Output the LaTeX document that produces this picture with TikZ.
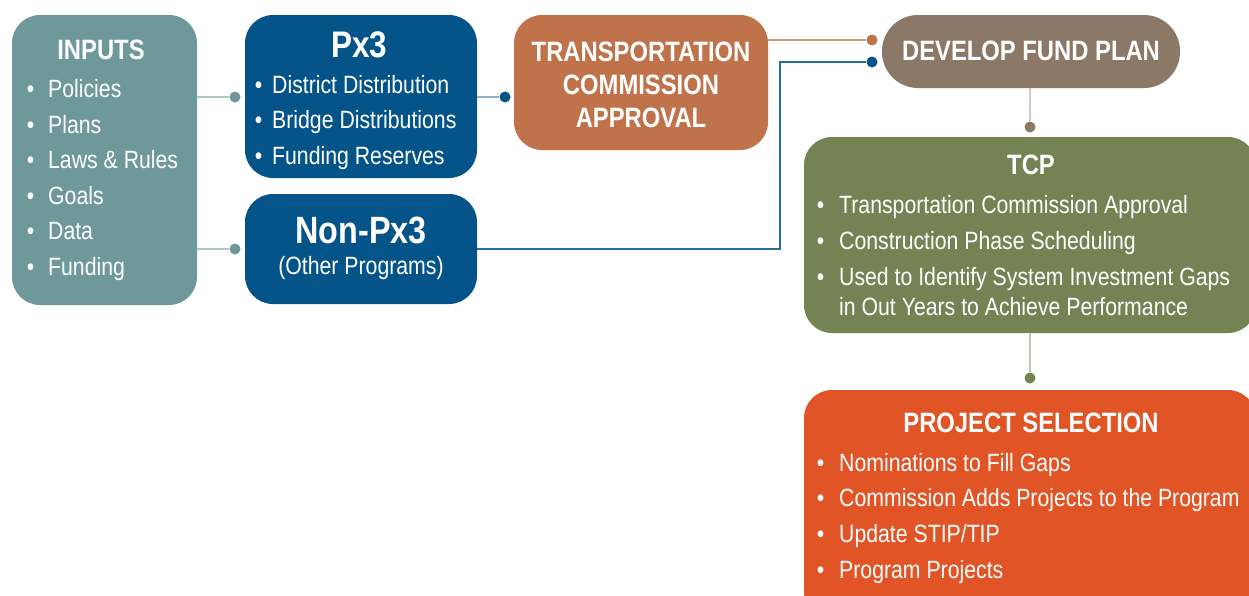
\documentclass[tikz,border=0pt]{standalone}
\usepackage{fontspec}
\setmainfont{Liberation Sans}[FakeStretch=0.85]
\definecolor{inputteal}{RGB}{110,152,153}
\definecolor{pxblue}{RGB}{4,84,138}
\definecolor{tcaorange}{RGB}{192,115,74}
\definecolor{fundbrown}{RGB}{139,120,103}
\definecolor{tcpgreen}{RGB}{116,131,83}
\definecolor{selorange}{RGB}{224,84,38}
\tikzstyle{box} = [rectangle, rounded corners=28pt, inner sep=0pt]
\tikzstyle{dot} = [circle, inner sep=0pt, minimum size=11pt]
\tikzstyle{link} = [draw, line width=1.6pt]
\tikzstyle{head} = [text=white, align=center, inner sep=0pt,
    font=\fontsize{28}{33}\selectfont\bfseries]
\tikzstyle{bul} = [text=white, anchor=base west, inner sep=0pt,
    font=\fontsize{25}{30}\selectfont]
\newcommand{\blt}[1][14pt]{\llap{\textbullet\hspace{#1}}}

\begin{document}
\begin{tikzpicture}[x=1pt, y=-1pt]
  \useasboundingbox (0,0) rectangle (1249,595);
  % boxes
  \node [box, fill=inputteal, minimum width=185pt, minimum height=290pt] (inputs) at (104.5,160) {};
  \node [box, fill=pxblue, minimum width=232pt, minimum height=163pt] (px3) at (361,96.5) {};
  \node [box, fill=pxblue, minimum width=232pt, minimum height=110pt] (nonpx) at (361,249) {};
  \node [box, fill=tcaorange, minimum width=254pt, minimum height=135pt] (tca) at (641,82.5) {};
  \node [box, rounded corners=36pt, fill=fundbrown, minimum width=298pt, minimum height=73pt] (dfp) at (1031,51.5) {};
  \node [box, fill=tcpgreen, minimum width=452pt, minimum height=196pt] (tcp) at (1030,235) {};
  \node [box, fill=selorange, minimum width=452pt, minimum height=230pt] (psel) at (1030,505) {};

  % inputs
  \node [head] (inputshead) at (101,50) {INPUTS};
  \foreach \t [count=\i from 0] in {Policies, Plans, Laws \& Rules, Goals, Data, Funding}
    \node [bul] (in\i) at (48,97.5+35.6*\i) {\blt\t};

  % px3
  \node [head, font=\fontsize{37}{40}\selectfont\bfseries] (px3head) at (359,45) {Px3};
  \foreach \t [count=\i from 0] in {District Distribution, Bridge Distributions, Funding Reserves}
    \node [bul] (px\i) at (272,93+35.5*\i) {\blt[10pt]\t};

  % non-px3
  \node [head, font=\fontsize{38}{42}\selectfont\bfseries] (nonpxhead) at (361,230) {Non-Px3};
  \node [head, font=\fontsize{25}{30}\selectfont] (nonpxsub) at (361,268) {(Other Programs)};

  % commission approval and fund plan
  \node [head] (tcatext) at (641,85) {TRANSPORTATION\\COMMISSION\\APPROVAL};
  \node [head] (dfptext) at (1031,51) {DEVELOP FUND PLAN};

  % tcp
  \node [head] (tcphead) at (1031,165) {TCP};
  \node [bul] (tcp0) at (839,213) {\blt[15pt]Transportation Commission Approval};
  \node [bul] (tcp1) at (839,249) {\blt[15pt]Construction Phase Scheduling};
  \node [bul] (tcp2) at (839,285) {\blt[15pt]Used to Identify System Investment Gaps};
  \node [bul] (tcp3) at (839,315) {in Out Years to Achieve Performance};

  % project selection
  \node [head] (pshead) at (1031,423) {PROJECT SELECTION};
  \foreach \t [count=\i from 0] in {Nominations to Fill Gaps, Commission Adds Projects to the Program, Update STIP/TIP, Program Projects}
    \node [bul] (ps\i) at (839,471+35.7*\i) {\blt[15pt]\t};

  % connectors
  \node [dot, fill=inputteal] (d1) at (235,97) {};
  \node [dot, fill=inputteal] (d2) at (235,249) {};
  \node [dot, fill=pxblue] (d3) at (505,97) {};
  \node [dot, fill=tcaorange] (d4) at (872,40) {};
  \node [dot, fill=pxblue] (d5) at (872,62) {};
  \node [dot, fill=fundbrown] (d6) at (1030,127) {};
  \node [dot, fill=tcpgreen] (d7) at (1030,378) {};
  \coordinate (bend) at (780,62);
  \path [link, draw=inputteal!55] (inputs.east |- d1) -- (d1);
  \path [link, draw=inputteal!55] (inputs.east |- d2) -- (d2);
  \path [link, draw=pxblue!45] (px3.east |- d3) -- (d3);
  \path [link, draw=tcaorange!75] (tca.east |- d4) -- (d4);
  \path [link, draw=pxblue!85] (nonpx.east) -| (bend) -- (d5);
  \path [link, draw=fundbrown!40] (d6 |- dfp.south) -- (d6);
  \path [link, draw=tcpgreen!45] (d7 |- tcp.south) -- (d7);
\end{tikzpicture}
\end{document}
